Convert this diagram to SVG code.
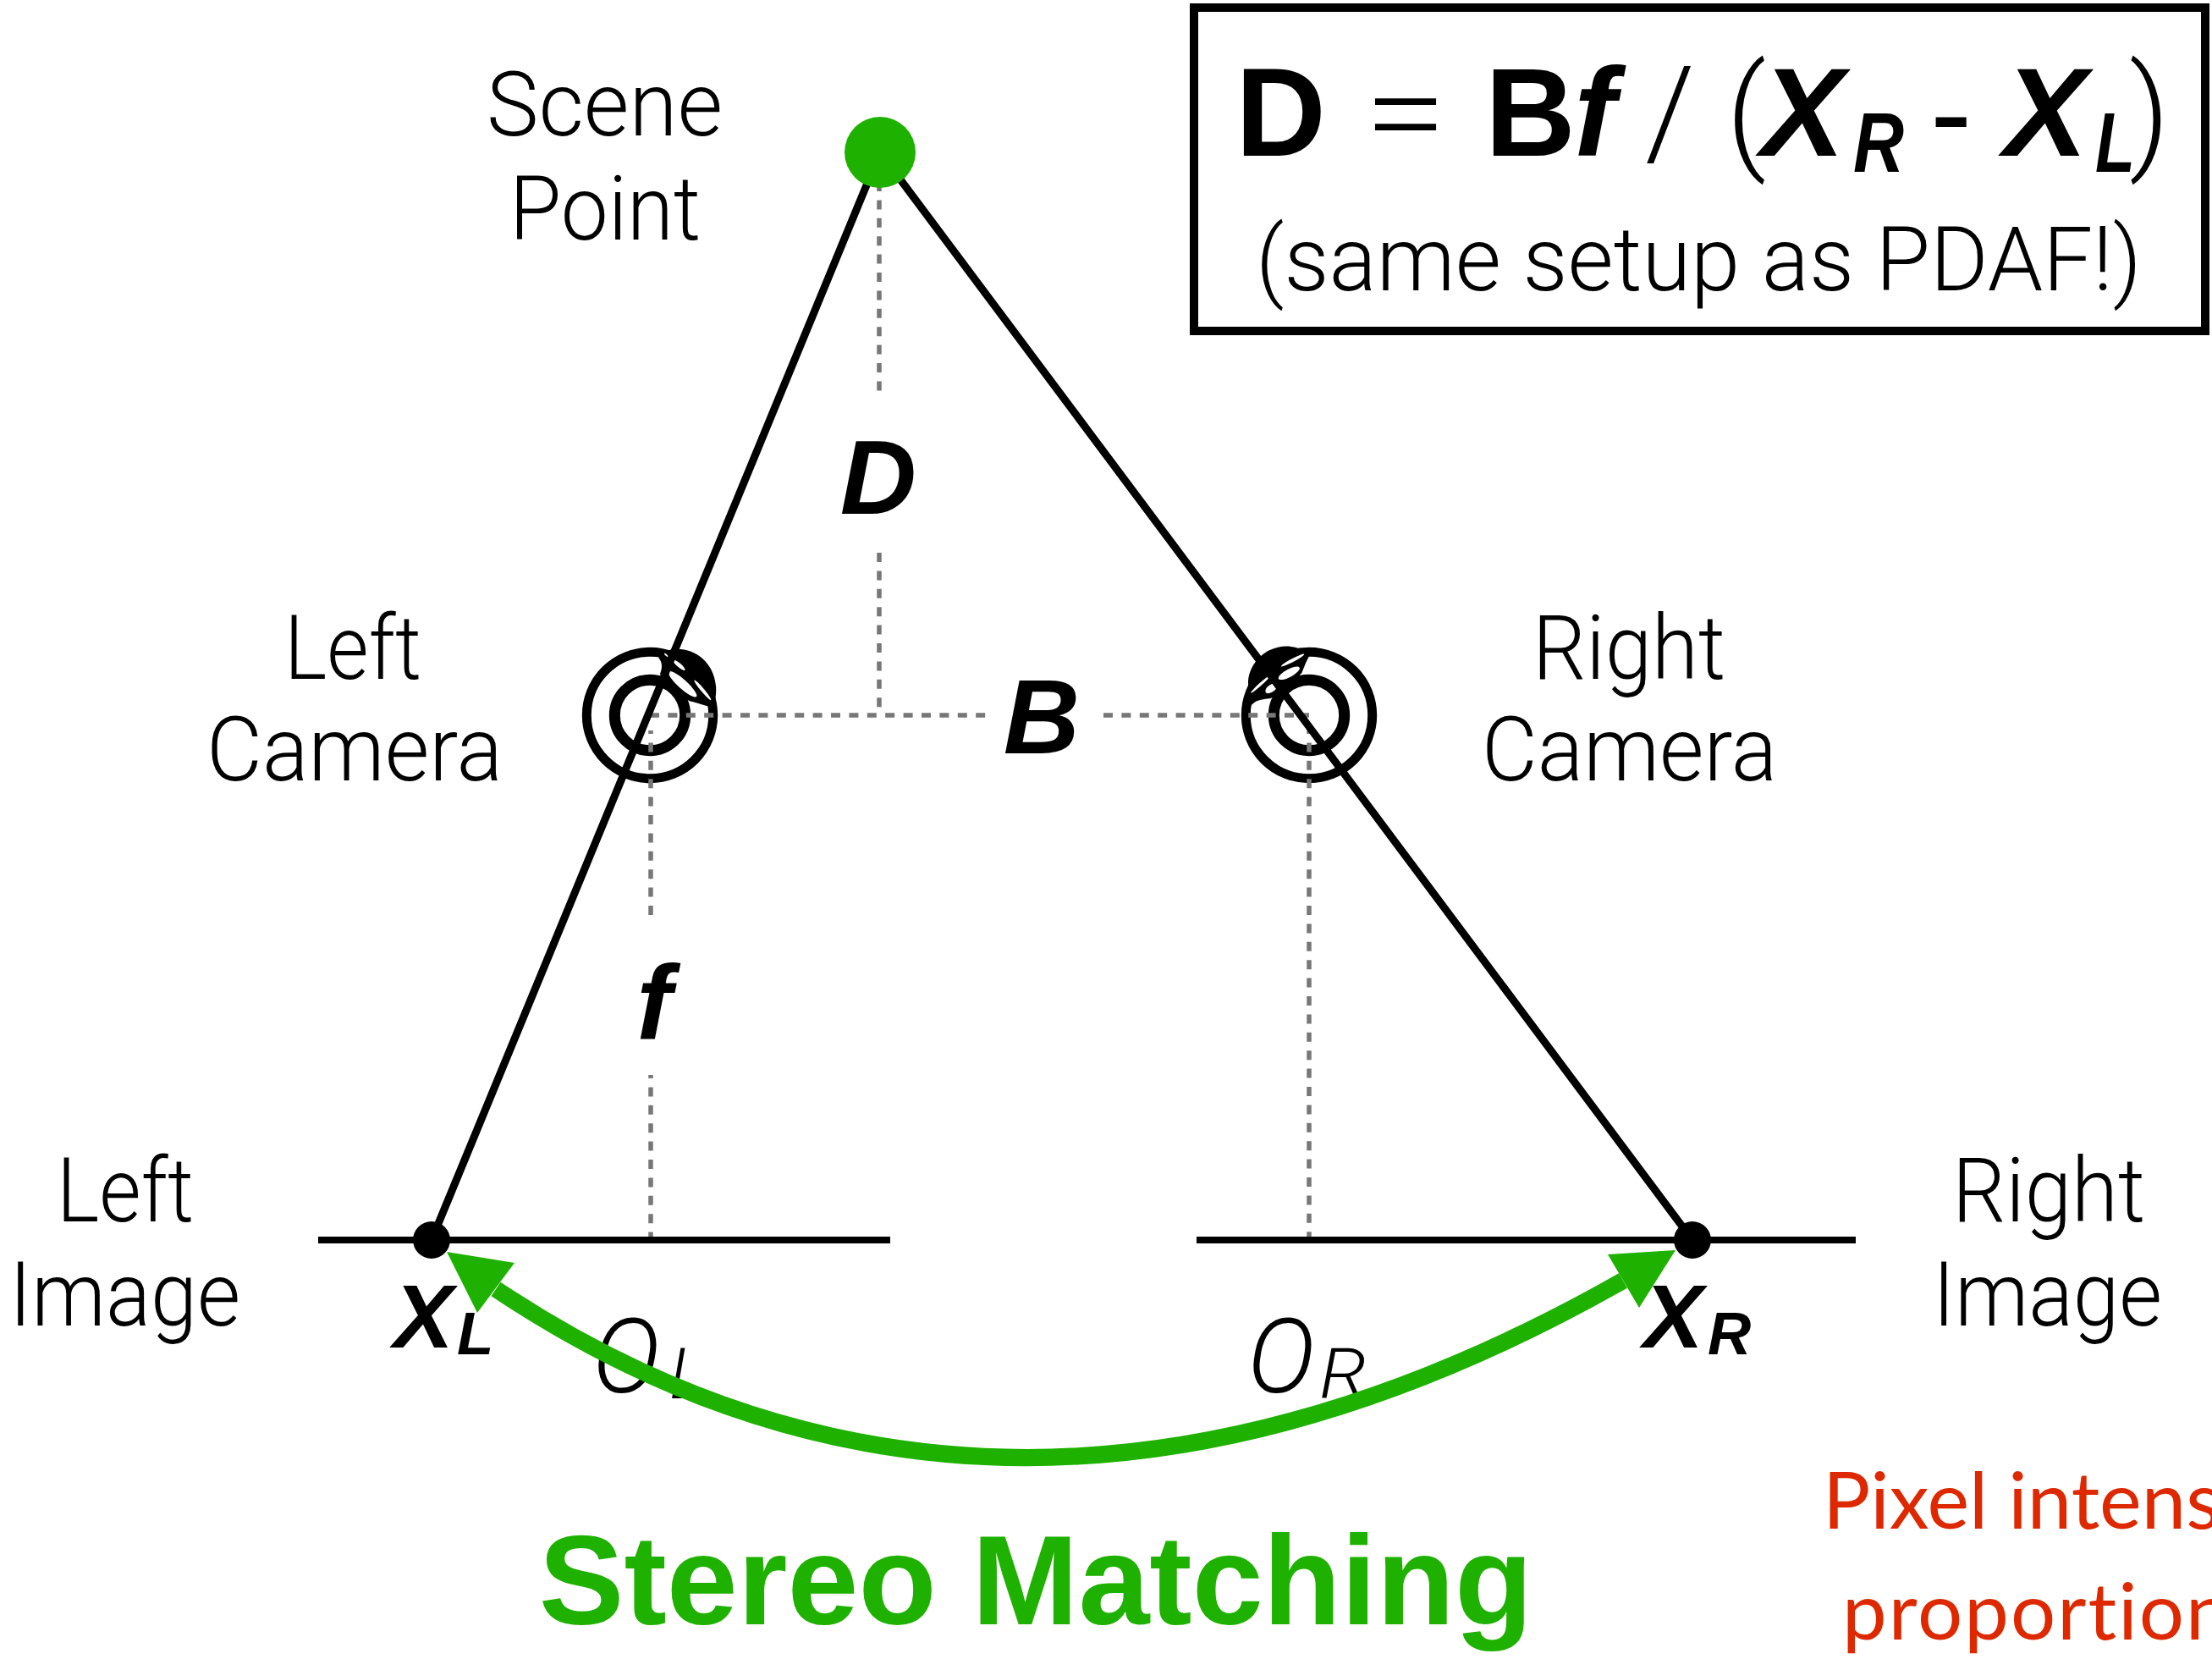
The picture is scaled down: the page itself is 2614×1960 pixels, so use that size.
<svg xmlns="http://www.w3.org/2000/svg" width="2614" height="1960" viewBox="0 0 2614 1960">
<style>
text{font-family:"Roboto","Liberation Sans",sans-serif;fill:#000}
.l{font-weight:300;font-size:105px}
.lab{font-family:"Liberation Sans",sans-serif;font-weight:700;font-style:italic}
.o{font-weight:300;font-style:italic}
.f{font-family:"Liberation Sans",sans-serif}
.t{font-family:"Roboto",sans-serif;font-weight:300}
.ray{stroke:#000;stroke-width:9;fill:none}
.img{stroke:#000;stroke-width:8;fill:none}
.dash{stroke:#777;stroke-width:5.5;fill:none;stroke-dasharray:11 10.4}
.ring{fill:none;stroke:#000}
.red{font-family:"Lato",sans-serif;font-weight:400;font-size:94px;fill:#dd2800;font-variant-ligatures:none}
</style>
<rect width="2614" height="1960" fill="#fff"/>
<g id="left-camera">
<circle class="ring" cx="768" cy="845" r="74.7" stroke-width="11"/>
<circle class="ring" cx="768" cy="845" r="41.7" stroke-width="13"/>
<g transform="translate(640 720) scale(.3333)">
<path d="M415 172C430 150 450 140 480 140C550 140 610 190 618 270C620 290 618 310 612 340C590 350 570 335 525 325C480 300 440 260 420 228C428 210 430 190 415 172Z"/>
<g fill="#fff"><ellipse cx="487" cy="197" rx="28" ry="7" transform="rotate(40 487 197)"/><ellipse cx="500" cy="265" rx="66" ry="16" transform="rotate(42 500 265)"/><ellipse cx="571" cy="286" rx="46" ry="6" transform="rotate(50 571 286)"/><ellipse cx="442" cy="162" rx="9" ry="3" transform="rotate(40 442 162)"/></g>
</g>
</g>
<g id="right-camera">
<circle class="ring" cx="1547" cy="845" r="74.7" stroke-width="11"/>
<circle class="ring" cx="1547" cy="845" r="41.7" stroke-width="13"/>
<g transform="translate(1420 720) scale(.3333)">
<path d="M165 262C165 210 200 165 240 145C280 125 320 128 350 140L395 148C375 170 370 190 355 225C320 265 280 300 245 315C210 320 190 320 172 345C170 310 165 290 165 262Z"/>
<g fill="#fff"><ellipse cx="323" cy="180" rx="46" ry="6" transform="rotate(-28 323 180)"/><ellipse cx="310" cy="226" rx="42" ry="14" transform="rotate(-28 310 226)"/><ellipse cx="247" cy="280" rx="24" ry="13" transform="rotate(-35 247 280)"/><ellipse cx="209" cy="265" rx="46" ry="5" transform="rotate(-42 209 265)"/></g>
</g>
</g>
<g id="labels">
<text class="l" x="575" y="160" textLength="279" lengthAdjust="spacingAndGlyphs">Scene</text><text class="l" x="602" y="283" textLength="226" lengthAdjust="spacingAndGlyphs">Point</text>
<text class="l" x="336" y="802" textLength="162" lengthAdjust="spacingAndGlyphs">Left</text><text class="l" x="244" y="922" textLength="350" lengthAdjust="spacingAndGlyphs">Camera</text>
<text class="l" x="1811" y="802" textLength="228" lengthAdjust="spacingAndGlyphs">Right</text><text class="l" x="1751" y="922" textLength="349" lengthAdjust="spacingAndGlyphs">Camera</text>
<text class="l" x="67" y="1443" textLength="162" lengthAdjust="spacingAndGlyphs">Left</text><text class="l" x="11" y="1566" textLength="273" lengthAdjust="spacingAndGlyphs">Image</text>
<text class="l" x="2307" y="1443" textLength="228" lengthAdjust="spacingAndGlyphs">Right</text><text class="l" x="2284" y="1566" textLength="271" lengthAdjust="spacingAndGlyphs">Image</text>
<text class="lab" x="1038" y="607" font-size="125" text-anchor="middle">D</text>
<text class="lab" x="1231" y="890" font-size="125" text-anchor="middle">B</text>
<text class="lab" x="773" y="1227" font-size="125" text-anchor="middle">f</text>
<text class="lab" x="465" y="1592" font-size="106">X</text><text class="lab" x="540" y="1600" font-size="71">L</text>
<text class="lab" x="1942" y="1592" font-size="106">X</text><text class="lab" x="2018" y="1600" font-size="71">R</text>
<text class="o" x="700" y="1645" font-size="122">O</text><text class="o" x="791" y="1652" font-size="84">L</text>
<text class="o" x="1474" y="1645" font-size="122">O</text><text class="o" x="1559" y="1652" font-size="84" textLength="56" lengthAdjust="spacingAndGlyphs">R</text>
</g>
<g id="connectors">
<path class="dash" d="M1039 215V463M1039 653V845M768 845H1167M1304 845H1547"/>
<path class="dash" d="M769 863V1082M769 1270V1465M1547 863V1465" stroke-dashoffset="7"/>
<path class="ray" d="M1040 180L510 1465M1040 180L2000 1465"/>
<path class="img" d="M376 1465H1052M1414 1465H2193"/>
<path d="M586 1523Q1190 1926 1918 1513" fill="none" stroke="#1fb100" stroke-width="20"/>
<path d="M528 1479L608 1492L564 1551Z M1980 1477L1900 1482L1937 1545Z" fill="#1fb100"/>
</g>
<g id="scene-point"><circle cx="1040" cy="180" r="42" fill="#1fb100"/></g>
<g id="left-image-point"><circle cx="510" cy="1465" r="22"/></g>
<g id="right-image-point"><circle cx="2000" cy="1465" r="22"/></g>
<g id="formula">
<rect x="1411" y="9" width="1195" height="382" fill="none" stroke="#000" stroke-width="10"/>
<g font-size="148">
<text x="1460" y="184" class="f" font-weight="700">D</text>
<text x="1612" y="184" class="t" textLength="98" lengthAdjust="spacingAndGlyphs">=</text>
<text x="1755" y="184" class="f" font-weight="700">B</text>
<text x="1860" y="184" class="f" font-weight="700" font-style="italic">f</text>
<text x="1944" y="184" class="t">/</text>
<text x="2040" y="184" class="t">(</text>
<text x="2081" y="184" class="f" font-weight="700" font-style="italic">X</text>
<text x="2190" y="203" class="f" font-weight="700" font-style="italic" font-size="100" textLength="60" lengthAdjust="spacingAndGlyphs">R</text>
<text x="2281" y="184" class="f">-</text>
<text x="2368" y="184" class="f" font-weight="700" font-style="italic">X</text>
<text x="2476" y="203" class="f" font-weight="700" font-style="italic" font-size="100" textLength="47" lengthAdjust="spacingAndGlyphs">L</text>
<text x="2516" y="184" class="t">)</text>
</g>
<text x="1484" y="343" font-size="106" font-weight="300" textLength="1047" lengthAdjust="spacingAndGlyphs">(same setup as PDAF!)</text>
</g>
<g id="caption">
<text x="1224" y="1919" style="font-family:'Liberation Sans',sans-serif;fill:#1fb100" font-weight="700" font-size="151" text-anchor="middle">Stereo Matching</text>
</g>
<g id="note">
<text class="red" x="2154" y="1806">Pixel intens</text>
<text class="red" x="2177" y="1937" letter-spacing="2">proportion</text>
</g>
</svg>
